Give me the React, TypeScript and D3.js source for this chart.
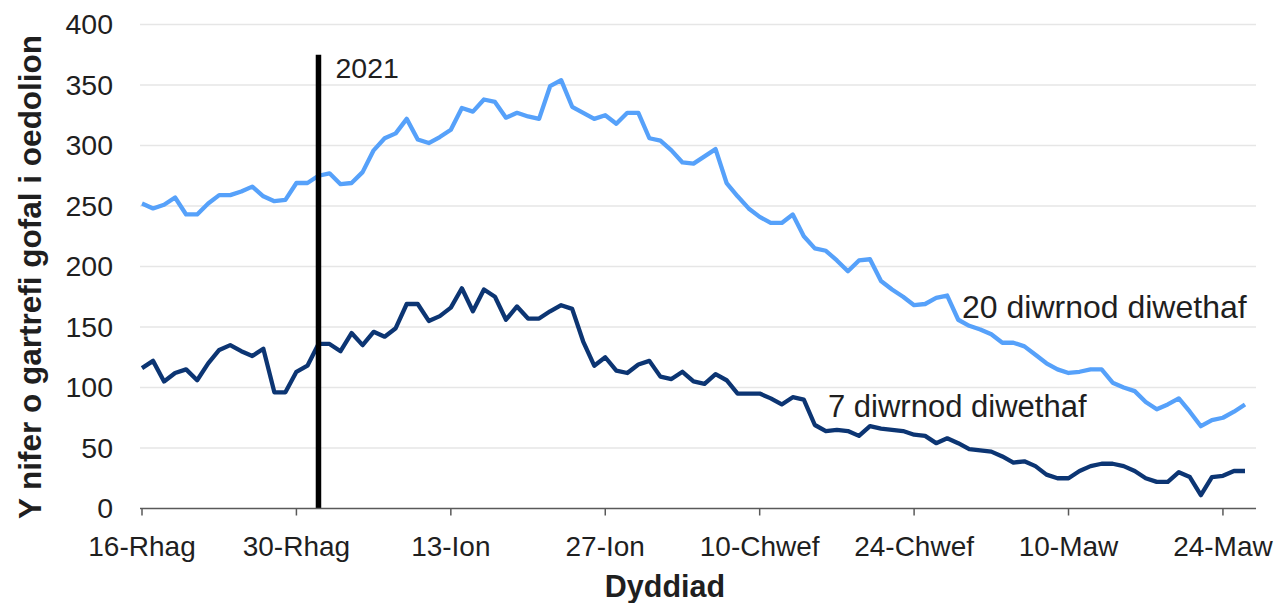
import React from "react";
import * as d3 from "d3";

// x categories: day index from 16 Dec 2020
const tickDays = [0, 14, 28, 42, 56, 70, 84, 98];
const tickLabels = ["16-Rhag", "30-Rhag", "13-Ion", "27-Ion", "10-Chwef", "24-Chwef", "10-Maw", "24-Maw"];
const yTicks = [0, 50, 100, 150, 200, 250, 300, 350, 400];

const last20Days = [
  252, 248, 251, 257, 243, 243, 252, 259, 259, 262,
  266, 258, 254, 255, 269, 269, 275, 277, 268, 269,
  278, 296, 306, 310, 322, 305, 302, 307, 313, 331,
  328, 338, 336, 323, 327, 324, 322, 349, 354, 332,
  327, 322, 325, 318, 327, 327, 306, 304, 296, 286,
  285, 291, 297, 269, 258, 248, 241, 236, 236, 243,
  225, 215, 213, 205, 196, 205, 206, 188, 181, 175,
  168, 169, 174, 176, 156, 151, 148, 144, 137, 137,
  134, 127, 120, 115, 112, 113, 115, 115, 104, 100,
  97, 88, 82, 86, 91, 80, 68, 73, 75, 80,
  86,
];

const last7Days = [
  116, 122, 105, 112, 115, 106, 120, 131, 135, 130,
  126, 132, 96, 96, 113, 118, 136, 136, 130, 145,
  135, 146, 142, 149, 169, 169, 155, 159, 166, 182,
  163, 181, 175, 156, 167, 157, 157, 163, 168, 165,
  138, 118, 125, 114, 112, 119, 122, 109, 107, 113,
  105, 103, 111, 106, 95, 95, 95, 91, 86, 92,
  90, 69, 64, 65, 64, 60, 68, 66, 65, 64,
  61, 60, 54, 58, 54, 49, 48, 47, 43, 38,
  39, 35, 28, 25, 25, 31, 35, 37, 37, 35,
  31, 25, 22, 22, 30, 26, 11, 26, 27, 31,
  31,
];

const seriesNames = ["20 diwrnod diwethaf", "7 diwrnod diwethaf"];
const markerDay = 16;
const markerTop = 375;
const markerLabel = "2021";
const yTitle = "Y nifer o gartrefi gofal i oedolion";
const xTitle = "Dyddiad";

const W = 1282;
const H = 603;
const FONT = "'Liberation Sans', Arial, sans-serif";

export default function App() {
  const x = d3.scaleLinear().domain([0, 100]).range([142, 1245]);
  const y = d3.scaleLinear().domain([0, 400]).range([508.5, 24.5]);

  const line = d3
    .line<number>()
    .x((_, i) => x(i))
    .y((d) => y(d));

  const axisStart = x(0) - 2;
  const axisEnd = x(101);

  return (
    <svg
      width={W}
      height={H}
      style={{ position: "absolute", left: 0, top: 0, background: "#fff" }}
      fontFamily={FONT}
    >
      <rect x={0} y={0} width={W} height={H} fill="#fff" />
      {/* gridlines */}
      {yTicks
        .filter((t) => t > 0)
        .map((t) => (
          <line key={t} x1={axisStart} x2={axisEnd} y1={y(t)} y2={y(t)} stroke="#e6e6e6" strokeWidth={1.5} />
        ))}
      {/* y tick labels */}
      {yTicks.map((t) => (
        <text key={t} x={113} y={y(t)} dy="0.35em" textAnchor="end" fontSize={28.5} fill="#1f1f1f">
          {t}
        </text>
      ))}
      {/* lines */}
      <path d={line(last20Days) || ""} fill="none" stroke="#56a1fa" strokeWidth={4.3} strokeLinejoin="round" />
      <path d={line(last7Days) || ""} fill="none" stroke="#0c3573" strokeWidth={4.3} strokeLinejoin="round" />
      {/* marker */}
      <line x1={x(markerDay)} x2={x(markerDay)} y1={y(0)} y2={y(markerTop)} stroke="#000" strokeWidth={5.5} />
      <text x={x(markerDay) + 17} y={78} fontSize={28.5} fill="#1f1f1f">
        {markerLabel}
      </text>
      {/* x axis */}
      <line x1={axisStart} x2={axisEnd} y1={y(0)} y2={y(0)} stroke="#595959" strokeWidth={1.5} />
      {tickDays.map((d, i) => (
        <g key={d}>
          <line x1={x(d)} x2={x(d)} y1={y(0)} y2={y(0) + 7} stroke="#595959" strokeWidth={1.5} />
          <text x={x(d)} y={556} textAnchor="middle" fontSize={28} fill="#1f1f1f">
            {tickLabels[i]}
          </text>
        </g>
      ))}
      {/* series labels */}
      <text x={962} y={318} fontSize={32} fill="#1f1f1f">
        {seriesNames[0]}
      </text>
      <text x={828} y={417} fontSize={31} fill="#1f1f1f">
        {seriesNames[1]}
      </text>
      {/* axis titles */}
      <text x={665} y={597} textAnchor="middle" fontSize={30.5} fontWeight="bold" fill="#1f1f1f">
        {xTitle}
      </text>
      <text
        transform={`translate(41, 277) rotate(-90)`}
        textAnchor="middle"
        fontSize={31.5}
        fontWeight="bold"
        fill="#1f1f1f"
      >
        {yTitle}
      </text>
    </svg>
  );
}
